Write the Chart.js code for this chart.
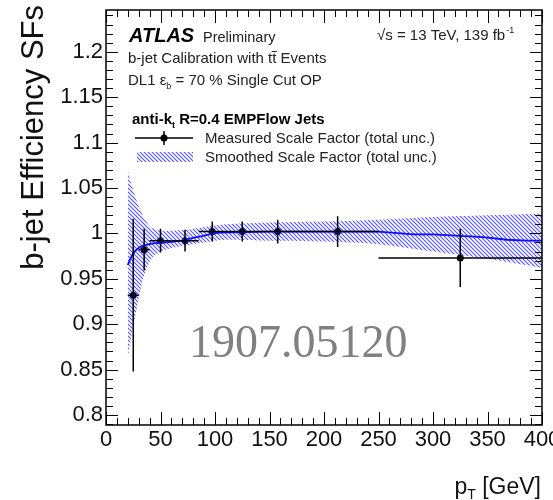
<!DOCTYPE html>
<html>
<head>
<meta charset="utf-8">
<script src="https://cdn.jsdelivr.net/npm/chart.js@4.4.1/dist/chart.umd.min.js"></script>
<style>
  html, body { margin: 0; padding: 0; background: #fff; }
  #wrap { width: 553px; height: 500px; }
</style>
</head>
<body>
<div id="wrap"><canvas id="sfChart" width="553" height="500"></canvas></div>
<script>
// --- Data ---
const ptBinLow  = [20, 30, 40, 60, 85, 110, 140, 175, 250];
const ptBinHigh = [30, 40, 60, 85, 110, 140, 175, 250, 400];
const ptCenter  = [25, 35, 50, 72.5, 97.5, 125, 157.5, 212.5, 325];
const sfMeasured = [0.932, 0.982, 0.992, 0.992, 1.002, 1.002, 1.002, 1.002, 0.973];
const sfError    = [0.084, 0.023, 0.013, 0.012, 0.011, 0.011, 0.013, 0.017, 0.032];

const bandPt  = [20, 23, 27, 30, 34, 38, 42, 50, 60, 75, 90, 110, 150, 200, 250, 300, 350, 400];
const bandUp  = [1.069, 1.055, 1.040, 1.030, 1.019, 1.011, 1.006, 1.003, 1.003, 1.004, 1.007, 1.010, 1.012, 1.013, 1.015, 1.018, 1.020, 1.022];
const bandLow = [0.863, 0.885, 0.910, 0.928, 0.950, 0.963, 0.973, 0.980, 0.984, 0.987, 0.990, 0.993, 0.992, 0.991, 0.988, 0.980, 0.972, 0.962];

const smoothPt = [20, 22, 24, 27, 31, 36, 43, 55, 70, 80, 88, 95, 105, 150, 200, 250, 282, 300, 346, 368, 386, 400];
const smoothSF = [0.965, 0.971, 0.976, 0.981, 0.985, 0.987, 0.989, 0.990, 0.992, 0.995, 0.997, 0.999, 1.001, 1.002, 1.002, 1.002, 0.999, 0.999, 0.996, 0.993, 0.992, 0.992];

const xTickValues = [0, 50, 100, 150, 200, 250, 300, 350, 400];
const yTickValues = [0.8, 0.85, 0.9, 0.95, 1, 1.05, 1.1, 1.15, 1.2];

const SANS = '"Liberation Sans", Arial, Helvetica, sans-serif';
const SERIF = '"Liberation Serif", "Times New Roman", serif';

// --- Hatch pattern for the smoothed band ---
function makeHatch() {
  const s = 4;
  const c = document.createElement("canvas");
  c.width = s; c.height = s;
  const g = c.getContext("2d");
  g.strokeStyle = "rgba(40,40,255,0.8)";
  g.lineWidth = 1.1;
  g.beginPath();
  g.moveTo(-1, -1); g.lineTo(s + 1, s + 1);
  g.moveTo(-1, s - 1); g.lineTo(1, s + 1);
  g.moveTo(s - 1, -1); g.lineTo(s + 1, 1);
  g.stroke();
  return g.createPattern(c, "repeat");
}
const hatch = makeHatch();

const toXY = (xs, ys) => xs.map((x, i) => ({ x: x, y: ys[i] }));

// --- Helpers ---
function txt(ctx, s, x, y, font, color) {
  ctx.font = font;
  ctx.fillStyle = color || "#111";
  ctx.fillText(s, x, y);
  return x + ctx.measureText(s).width;
}

// error bars for measured points
const errorBars = {
  id: "errorBars",
  afterDatasetsDraw(chart) {
    const { ctx, scales: { x, y } } = chart;
    ctx.save();
    ctx.strokeStyle = "#000";
    ctx.lineWidth = 1.5;
    ptCenter.forEach((c, i) => {
      const py = y.getPixelForValue(sfMeasured[i]);
      ctx.beginPath();
      ctx.moveTo(x.getPixelForValue(ptBinLow[i]), py);
      ctx.lineTo(x.getPixelForValue(ptBinHigh[i]), py);
      const px = x.getPixelForValue(c);
      ctx.moveTo(px, y.getPixelForValue(sfMeasured[i] + sfError[i]));
      ctx.lineTo(px, y.getPixelForValue(sfMeasured[i] - sfError[i]));
      ctx.stroke();
    });
    ctx.restore();
  }
};

// ROOT style frame with inward ticks
const frame = {
  id: "frame",
  afterDraw(chart) {
    const { ctx, chartArea: a, scales: { x, y } } = chart;
    ctx.save();
    ctx.strokeStyle = "#000";
    ctx.lineWidth = 1;
    ctx.beginPath();
    for (let v = 0; v <= 400; v += 10) {
      const px = Math.round(x.getPixelForValue(v)) + 0.5;
      const len = v % 50 === 0 ? 13 : 7;
      ctx.moveTo(px, a.bottom); ctx.lineTo(px, a.bottom - len);
      ctx.moveTo(px, a.top); ctx.lineTo(px, a.top + len);
    }
    for (let i = 79; i <= 124; i++) {
      const py = Math.round(y.getPixelForValue(i / 100)) + 0.5;
      const len = i % 5 === 0 ? 12 : 7;
      ctx.moveTo(a.left, py); ctx.lineTo(a.left + len, py);
      ctx.moveTo(a.right, py); ctx.lineTo(a.right - len, py);
    }
    ctx.stroke();
    ctx.lineWidth = 1.5;
    ctx.strokeRect(a.left, a.top, a.right - a.left, a.bottom - a.top);
    ctx.restore();
  }
};

// labels, legend, titles
const annotations = {
  id: "annotations",
  afterDraw(chart) {
    const ctx = chart.ctx;
    ctx.save();
    ctx.textBaseline = "alphabetic";
    ctx.textAlign = "left";
    const F = "15px " + SANS;

    // ATLAS Preliminary
    txt(ctx, "ATLAS", 129, 42, "italic bold 20px " + SANS, "#000");
    txt(ctx, "Preliminary", 203, 42, "14.5px " + SANS, "#222");

    // sqrt(s)
    let x = txt(ctx, "\u221As = 13 TeV, 139 fb", 377, 40, F, "#222");
    txt(ctx, "-1", x + 1, 33, "9px " + SANS, "#222");

    // b-jet calibration line with t tbar
    x = txt(ctx, "b-jet Calibration with t", 128, 63, F, "#222");
    const tW = ctx.measureText("t").width;
    x = txt(ctx, "t", x, 63, F, "#222");
    ctx.strokeStyle = "#222"; ctx.lineWidth = 1;
    ctx.beginPath(); ctx.moveTo(x - tW - 0.5, 51.5); ctx.lineTo(x + 0.5, 51.5); ctx.stroke();
    txt(ctx, " Events", x, 63, F, "#222");

    // DL1 working point
    x = txt(ctx, "DL1 ", 128, 85, F, "#222");
    x = txt(ctx, "\u03B5", x, 85, F, "#222");
    x = txt(ctx, "b", x, 89, "9px " + SANS, "#222");
    txt(ctx, " = 70 % Single Cut OP", x, 85, F, "#222");

    // jet collection
    x = txt(ctx, "anti-k", 132, 124, "bold 15px " + SANS, "#000");
    x = txt(ctx, "t", x, 128, "bold 9px " + SANS, "#000");
    txt(ctx, " R=0.4 EMPFlow Jets", x, 124, "bold 15px " + SANS, "#000");

    // legend: measured
    ctx.strokeStyle = "#000"; ctx.lineWidth = 1.5;
    ctx.beginPath(); ctx.moveTo(135, 138); ctx.lineTo(193, 138);
    ctx.moveTo(164, 131); ctx.lineTo(164, 145); ctx.stroke();
    ctx.fillStyle = "#000";
    ctx.beginPath(); ctx.arc(164, 138, 3.5, 0, Math.PI * 2); ctx.fill();
    txt(ctx, "Measured Scale Factor (total unc.)", 205, 143, F, "#222");

    // legend: smoothed
    ctx.fillStyle = hatch;
    ctx.fillRect(137, 152, 56, 10);
    txt(ctx, "Smoothed Scale Factor (total unc.)", 205, 162, F, "#222");

    // watermark
    txt(ctx, "1907.05120", 189, 357, "46px " + SERIF, "#808080");

    // y title
    ctx.save();
    ctx.translate(43, 5);
    ctx.rotate(-Math.PI / 2);
    ctx.textAlign = "right";
    txt(ctx, "b-jet Efficiency SFs", 0, 0, "31px " + SANS, "#111");
    ctx.restore();

    // x title
    ctx.font = "23px " + SANS;
    const wP = ctx.measureText("p").width;
    const wG = ctx.measureText(" [GeV]").width;
    ctx.font = "14px " + SANS;
    const wT = ctx.measureText("T").width;
    let sx = 541 - (wP + wT + wG);
    sx = txt(ctx, "p", sx, 494, "23px " + SANS, "#111");
    sx = txt(ctx, "T", sx, 499, "14px " + SANS, "#111");
    txt(ctx, " [GeV]", sx, 494, "23px " + SANS, "#111");

    ctx.restore();
  }
};

const chart = new Chart(document.getElementById("sfChart").getContext("2d"), {
  type: "line",
  data: {
    datasets: [
      {
        label: "band up",
        data: toXY(bandPt, bandUp),
        borderWidth: 0,
        pointRadius: 0,
        fill: "+1",
        backgroundColor: hatch,
        tension: 0.3
      },
      {
        label: "band low",
        data: toXY(bandPt, bandLow),
        borderWidth: 0,
        pointRadius: 0,
        fill: false,
        tension: 0.3
      },
      {
        label: "Smoothed Scale Factor",
        data: toXY(smoothPt, smoothSF),
        borderColor: "#0000ff",
        borderWidth: 1.8,
        pointRadius: 0,
        fill: false,
        tension: 0
      },
      {
        label: "Measured Scale Factor",
        data: toXY(ptCenter, sfMeasured),
        showLine: false,
        pointRadius: 3.5,
        pointBackgroundColor: "#000",
        pointBorderColor: "#000",
        pointBorderWidth: 0
      }
    ]
  },
  options: {
    responsive: false,
    animation: false,
    devicePixelRatio: 1,
    layout: { padding: { top: 10, right: 11, left: 0, bottom: 0 } },
    plugins: { legend: { display: false }, tooltip: { enabled: false } },
    scales: {
      x: {
        type: "linear",
        min: 0,
        max: 400,
        afterBuildTicks: s => { s.ticks = xTickValues.map(v => ({ value: v })); },
        ticks: { autoSkip: false, maxRotation: 0, padding: 2, color: "#111", font: { size: 22, family: SANS } },
        grid: { display: false, drawTicks: false },
        border: { display: false },
        afterFit: s => { s.height = 75; s.paddingLeft = 0; s.paddingRight = 0; }
      },
      y: {
        type: "linear",
        min: 0.789,
        max: 1.246,
        afterBuildTicks: s => { s.ticks = yTickValues.map(v => ({ value: v })); },
        ticks: {
          padding: 3,
          color: "#111",
          font: { size: 22, family: SANS },
          callback: v => String(parseFloat(v.toFixed(2)))
        },
        grid: { display: false, drawTicks: false },
        border: { display: false },
        afterFit: s => { s.width = 106; s.paddingTop = 0; s.paddingBottom = 0; }
      }
    }
  },
  plugins: [errorBars, frame, annotations]
});
</script>
</body>
</html>
